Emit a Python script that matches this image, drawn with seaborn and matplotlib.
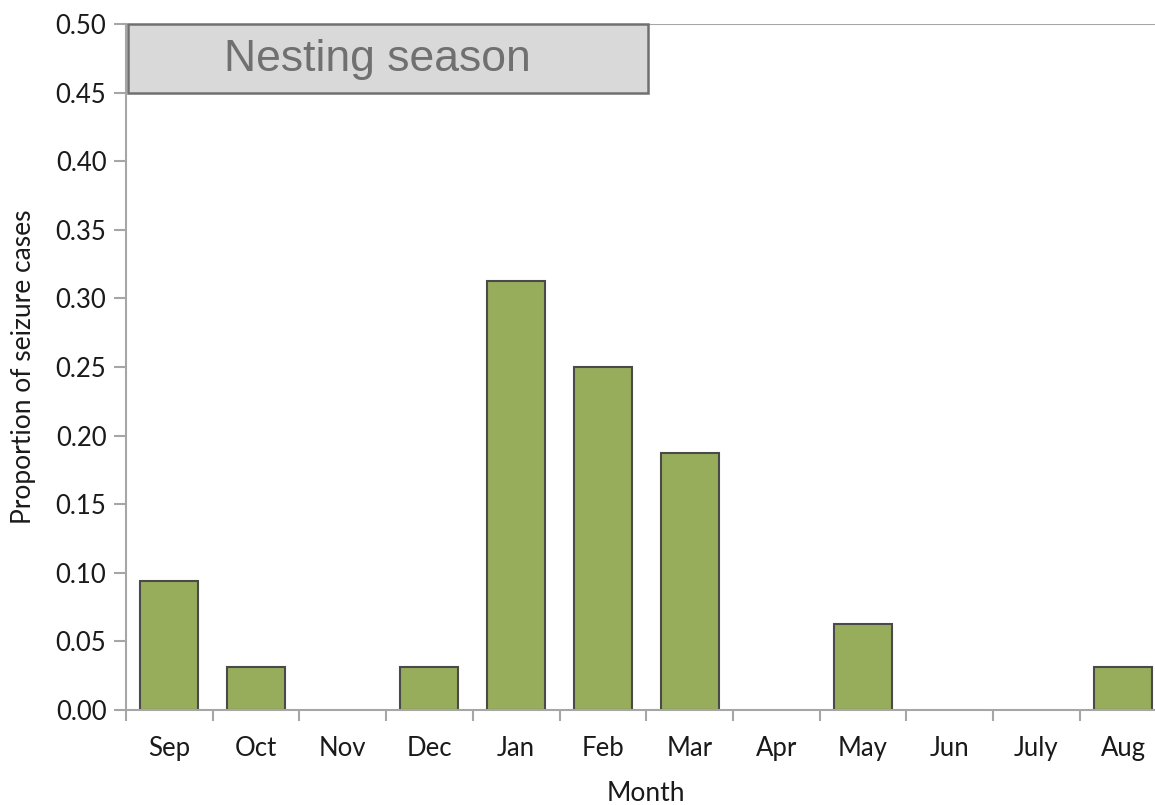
import numpy as np
import pandas as pd
import matplotlib
matplotlib.use("Agg")
import matplotlib.pyplot as plt
import seaborn as sns
from matplotlib.patches import Rectangle

# ---- data ----
months = ["Sep", "Oct", "Nov", "Dec", "Jan", "Feb", "Mar", "Apr", "May", "Jun", "July", "Aug"]
proportions = [0.09375, 0.03125, 0.0, 0.03125, 0.3125, 0.25, 0.1875, 0.0, 0.0625, 0.0, 0.0, 0.03125]
season_label = "Nesting season"

df = pd.DataFrame({"Month": months, "Proportion": proportions})

sns.set_theme(style="white")
plt.rcParams["font.family"] = ["Lato", "DejaVu Sans"]

fig = plt.figure(figsize=(11.55, 8.05), dpi=100)
ax = fig.add_axes([0.109, 0.118, 0.901, 0.852])

sns.barplot(data=df, x="Month", y="Proportion", color="#97ad5c", saturation=1,
            edgecolor="#4a4a4a", linewidth=1.5, width=0.67, ax=ax)

# empty months: no outline on the baseline
for p in ax.patches:
    if p.get_height() == 0:
        p.set_linewidth(0)

ax.set_ylim(0, 0.5)
ax.set_xlim(-0.5, len(months) - 0.5)
ax.set_yticks(np.arange(0, 0.501, 0.05))
ax.set_yticklabels([f"{v:.2f}" for v in np.arange(0, 0.501, 0.05)])

# spines
for s in ["top", "right"]:
    ax.spines[s].set_visible(False)
for s in ["left", "bottom"]:
    ax.spines[s].set_color("#a6a6a6")
    ax.spines[s].set_linewidth(1.5)
ax.axhline(0.5, color="#a6a6a6", lw=1.5, zorder=1)

# ticks
ax.tick_params(axis="y", direction="out", length=9, width=1.5, color="#a6a6a6",
               labelsize=18.5, labelcolor="#1a1a1a", left=True, pad=5)
ax.tick_params(axis="x", which="major", length=0, labelsize=18.5, labelcolor="#1a1a1a", pad=19)
ax.set_xticks(np.arange(-0.5, len(months), 1), minor=True)
ax.tick_params(axis="x", which="minor", direction="out", length=8, width=1.5,
               color="#a6a6a6", bottom=True)

ax.set_xlabel("Month", fontsize=19, color="#1a1a1a", labelpad=14)
ax.set_ylabel("Proportion of seizure cases", fontsize=19, color="#1a1a1a", labelpad=14)

# nesting season box
box = Rectangle((-0.48, 0.45), 6.0, 0.05, facecolor="#d9d9d9", edgecolor="#707070",
                linewidth=1.8, zorder=3, clip_on=False)
ax.add_patch(box)
ax.text(2.4, 0.474, season_label, ha="center", va="center", fontsize=32,
        color="#707070", family=["Liberation Sans", "DejaVu Sans"], zorder=4)

plt.savefig("out.png", dpi=100)
